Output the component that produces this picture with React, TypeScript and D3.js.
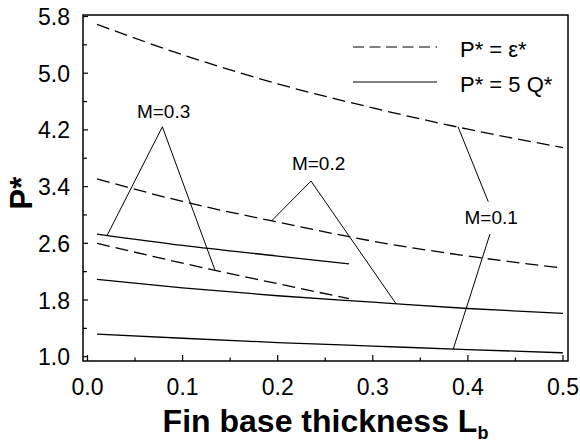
import React from 'react';
import * as d3 from 'd3';

const xTicks = [0, 0.1, 0.2, 0.3, 0.4, 0.5];
const xMinor = [0.05, 0.15, 0.25, 0.35, 0.45];
const yTicks = [1.0, 1.8, 2.6, 3.4, 4.2, 5.0, 5.8];
const yMinor = [1.4, 2.2, 3.0, 3.8, 4.6, 5.4];

const lbFull = [0.01, 0.1, 0.2, 0.3, 0.4, 0.5];
const lbShort = [0.01, 0.1, 0.2, 0.275];

const epsM01 = [5.69, 5.26, 4.85, 4.51, 4.21, 3.95];
const q5M01 = [1.32, 1.26, 1.2, 1.15, 1.1, 1.055];
const epsM02 = [3.51, 3.19, 2.9, 2.63, 2.42, 2.25];
const q5M02 = [2.09, 1.97, 1.86, 1.77, 1.68, 1.61];
const epsM03 = [2.6, 2.32, 2.03, 1.82];
const q5M03 = [2.73, 2.57, 2.42, 2.31];

const series = [
  { xs: lbFull, ys: epsM01, dashed: true },
  { xs: lbFull, ys: q5M01, dashed: false },
  { xs: lbFull, ys: epsM02, dashed: true },
  { xs: lbFull, ys: q5M02, dashed: false },
  { xs: lbShort, ys: epsM03, dashed: true },
  { xs: lbShort, ys: q5M03, dashed: false },
];

const leaders: [number, number][][] = [
  [[0.0208, 2.716], [0.0787, 4.244], [0.134, 2.223]],
  [[0.1937, 2.918], [0.235, 3.478], [0.3244, 1.748]],
  [[0.3896, 4.245], [0.4214, 3.187]],
  [[0.4232, 2.731], [0.3846, 1.109]],
];
const mLabels = ['M=0.3', 'M=0.2', 'M=0.1'];
const mLabelPos: [number, number][] = [[0.08, 4.364], [0.243, 3.634], [0.4245, 2.872]];

const FONT = '"Liberation Sans", Arial, Helvetica, sans-serif';

export default function App() {
  const W = 580, H = 446;
  const left = 83, right = 568, top = 15, bottom = 361;
  const x = d3.scaleLinear().domain([0, 0.5]).range([87.5, 563]);
  const y = d3.scaleLinear().domain([1.0, 5.8]).range([356.7, 16.5]);
  const line = d3.line<[number, number]>()
    .x(d => x(d[0]))
    .y(d => y(d[1]))
    .curve(d3.curveMonotoneX);
  const straight = d3.line<[number, number]>().x(d => x(d[0])).y(d => y(d[1]));

  return (
    <svg width={W} height={H} style={{ position: 'absolute', left: 0, top: 0, background: '#fff' }}
      fontFamily={FONT}>
      <rect x={0} y={0} width={W} height={H} fill="#fff" />
      {/* frame */}
      <rect x={left} y={top} width={right - left} height={bottom - top} fill="none" stroke="#000" strokeWidth={1.5} />
      {/* x ticks */}
      {xTicks.map(t => (
        <g key={'xt' + t}>
          <line x1={x(t)} x2={x(t)} y1={bottom} y2={bottom - 6} stroke="#000" strokeWidth={1.2} />
          <text x={x(t)} y={395} textAnchor="middle" fontSize={23}>{t.toFixed(1)}</text>
        </g>
      ))}
      {xMinor.map(t => (
        <line key={'xm' + t} x1={x(t)} x2={x(t)} y1={bottom} y2={bottom - 3.5} stroke="#000" strokeWidth={1.2} />
      ))}
      {yTicks.map(t => (
        <g key={'yt' + t}>
          <line x1={left} x2={left + 5} y1={y(t)} y2={y(t)} stroke="#000" strokeWidth={1.2} />
          <text x={70} y={y(t) + 8.5} textAnchor="end" fontSize={23}>{t.toFixed(1)}</text>
        </g>
      ))}
      {yMinor.map(t => (
        <line key={'ym' + t} x1={left} x2={left + 4} y1={y(t)} y2={y(t)} stroke="#000" strokeWidth={1.2} />
      ))}
      {/* curves */}
      {series.map((s, i) => (
        <path key={'s' + i}
          d={line(s.xs.map((xv, j) => [xv, s.ys[j]] as [number, number])) || ''}
          fill="none" stroke="#000" strokeWidth={1.3}
          strokeDasharray={s.dashed ? '13,6' : undefined} />
      ))}
      {/* leaders */}
      {leaders.map((pts, i) => (
        <path key={'l' + i} d={straight(pts) || ''} fill="none" stroke="#000" strokeWidth={1} />
      ))}
      {mLabels.map((m, i) => (
        <text key={m} x={x(mLabelPos[i][0])} y={y(mLabelPos[i][1])} textAnchor="middle" fontSize={19}>{m}</text>
      ))}
      {/* legend */}
      <line x1={353} x2={437} y1={47} y2={47} stroke="#000" strokeWidth={1.2} strokeDasharray="11,5.5" />
      <line x1={353} x2={437} y1={82} y2={82} stroke="#000" strokeWidth={1.2} />
      <text x={460} y={56.5} fontSize={22}>P* = ε*</text>
      <text x={460} y={91.5} fontSize={22}>P* = 5 Q*</text>
      {/* axis titles */}
      <text x={(left + right) / 2} y={432} textAnchor="middle" fontSize={32} fontWeight="bold">
        Fin base thickness L<tspan fontSize={18} dy={7}>b</tspan>
      </text>
      <text transform="translate(32,193) rotate(-90)" textAnchor="middle" fontSize={31} fontWeight="bold">P*</text>
    </svg>
  );
}
